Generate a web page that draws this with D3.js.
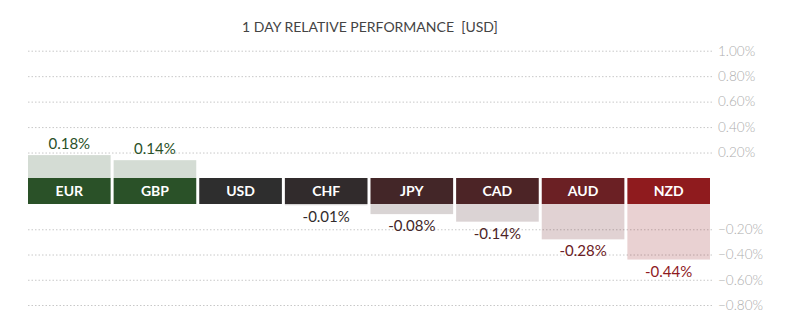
<!DOCTYPE html>
<html>
<head>
<meta charset="utf-8">
<script src="https://cdn.jsdelivr.net/npm/d3@7"></script>
<style>
  html, body { margin: 0; padding: 0; background: #fff; }
  svg { display: block; font-family: Lato, "Open Sans", sans-serif; }
</style>
</head>
<body>
<svg id="chart" width="800" height="324"></svg>
<script>
const title = "1 DAY RELATIVE PERFORMANCE  [USD]";
const categories = ["EUR", "GBP", "USD", "CHF", "JPY", "CAD", "AUD", "NZD"];
const values = [0.18, 0.14, 0, -0.01, -0.08, -0.14, -0.28, -0.44];
const valueLabels = ["0.18%", "0.14%", "", "-0.01%", "-0.08%", "-0.14%", "-0.28%", "-0.44%"];
const colors = ["#2a5128", "#2a5128", "#2e2e2e", "#312b2c", "#432628", "#4c2426", "#6b2024", "#8f1b1e"];
const posTicks = [0.2, 0.4, 0.6, 0.8, 1.0];
const negTicks = [-0.2, -0.4, -0.6, -0.8];

const svg = d3.select("#chart");
const left = 28, right = 710, gridRight = 712;
const bandTop = 178, bandBottom = 204;

const x = d3.scaleBand().domain(categories).range([left, right]).paddingInner(0.035).paddingOuter(0);
const yPos = d3.scaleLinear().domain([0, 1]).range([bandTop, 50.7]);
const yNeg = d3.scaleLinear().domain([0, -0.8]).range([bandBottom, 305]);
const fmt = v => d3.format(".2f")(v) + "%";

// title
svg.append("text")
  .attr("x", (left + right) / 2 + 1).attr("y", 32)
  .attr("text-anchor", "middle")
  .attr("font-size", 14).attr("fill", "#444")
  .style("white-space", "pre")
  .text(title);

// axes / grid
function styleAxis(g) {
  g.select(".domain").remove();
  g.selectAll(".tick line")
    .attr("stroke", "#c8c8c8").attr("stroke-dasharray", "1.5,2").attr("stroke-width", 1);
  g.selectAll(".tick text")
    .attr("fill", "#adadad").attr("font-size", 13.5).attr("font-weight", 300)
    .attr("font-family", "Lato, sans-serif");
}
svg.append("g")
  .attr("transform", `translate(${gridRight},0)`)
  .call(d3.axisRight(yPos).tickValues(posTicks).tickSize(-(gridRight - left)).tickPadding(6).tickFormat(fmt))
  .call(styleAxis);
svg.append("g")
  .attr("transform", `translate(${gridRight},0)`)
  .call(d3.axisRight(yNeg).tickValues(negTicks).tickSize(-(gridRight - left)).tickPadding(6).tickFormat(fmt))
  .call(styleAxis);

const data = categories.map((c, i) => ({ c, v: values[i], label: valueLabels[i], color: colors[i] }));

// light bars
svg.append("g").selectAll("rect")
  .data(data.filter(d => d.v !== 0))
  .join("rect")
  .attr("x", d => x(d.c))
  .attr("width", x.bandwidth())
  .attr("y", d => d.v > 0 ? yPos(d.v) : bandBottom)
  .attr("height", d => d.v > 0 ? bandTop - yPos(d.v) : yNeg(d.v) - bandBottom)
  .attr("fill", d => d.color)
  .attr("fill-opacity", 0.2);

// band
const band = svg.append("g").selectAll("g").data(data).join("g");
band.append("rect")
  .attr("x", d => x(d.c)).attr("width", x.bandwidth())
  .attr("y", bandTop).attr("height", bandBottom - bandTop)
  .attr("fill", d => d.color);
band.append("text")
  .attr("x", d => x(d.c) + x.bandwidth() / 2)
  .attr("y", bandTop + 18)
  .attr("text-anchor", "middle")
  .attr("font-size", 14).attr("font-weight", 700).attr("fill", "#fff")
  .text(d => d.c);

// value labels
svg.append("g").selectAll("text")
  .data(data.filter(d => d.label))
  .join("text")
  .attr("x", d => x(d.c) + x.bandwidth() / 2)
  .attr("y", d => d.v > 0 ? yPos(d.v) - 6 : yNeg(d.v) + 17)
  .attr("text-anchor", "middle")
  .attr("font-size", 15)
  .attr("fill", d => d.color)
  .text(d => d.label);
</script>
</body>
</html>
